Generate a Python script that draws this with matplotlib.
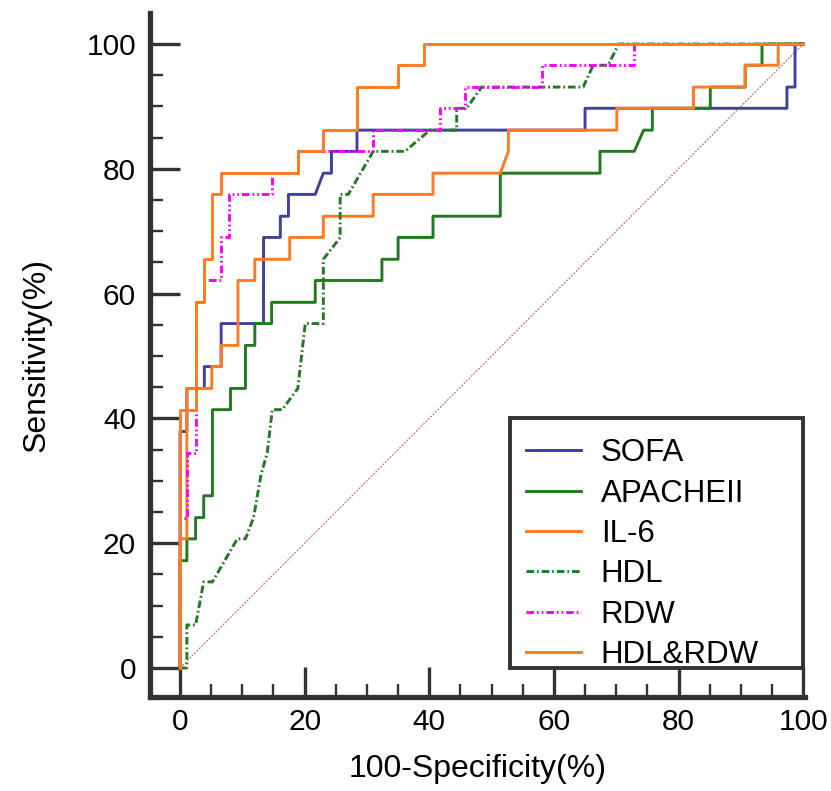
import matplotlib.pyplot as plt
from matplotlib.patches import Rectangle
from matplotlib.ticker import MultipleLocator

plt.rcParams['font.family'] = ['Liberation Sans', 'DejaVu Sans']

# ROC curve vertices: 100-specificity (%), sensitivity (%)
sofa_x = [0, 0, 1.1, 1.1, 3.9, 3.9, 6.6, 6.6, 13.4, 13.4, 16.1, 16.1, 17.4, 17.4, 21.7, 23.0, 24.3, 24.3,
          28.4, 28.4, 65.0, 65.0, 97.4, 97.4, 98.7, 98.7, 100]
sofa_y = [0, 37.9, 37.9, 44.8, 44.8, 48.3, 48.3, 55.2, 55.2, 69.0, 69.0, 72.4, 72.4, 75.9, 75.9, 79.3, 79.3, 82.8,
          82.8, 86.2, 86.2, 89.7, 89.7, 93.1, 93.1, 100, 100]

apache_x = [0, 0, 1.1, 1.1, 2.5, 2.5, 3.8, 3.8, 5.2, 5.2, 8.1, 8.1, 10.5, 10.5, 12.0, 12.0, 14.7, 14.7,
            21.7, 21.7, 32.4, 32.4, 35.0, 35.0, 40.6, 40.6, 51.4, 51.4, 67.4, 67.4, 72.9, 74.4, 75.8, 75.8,
            85.1, 85.1, 90.7, 90.7, 93.4, 93.4, 100]
apache_y = [0, 17.2, 17.2, 20.7, 20.7, 24.1, 24.1, 27.6, 27.6, 41.4, 41.4, 44.8, 44.8, 51.7, 51.7, 55.2, 55.2, 58.6,
            58.6, 62.1, 62.1, 65.5, 65.5, 69.0, 69.0, 72.4, 72.4, 79.3, 79.3, 82.8, 82.8, 86.2, 86.2, 89.7,
            89.7, 93.1, 93.1, 96.6, 96.6, 100, 100]

il6_x = [0, 0, 1.1, 1.1, 5.1, 5.1, 6.6, 6.6, 9.3, 9.3, 12.0, 12.0, 17.6, 17.6, 23.0, 23.0, 31.0, 31.0,
         40.6, 40.6, 51.4, 52.7, 52.7, 70.1, 70.1, 82.4, 82.4, 90.7, 90.7, 96.0, 96.0, 100]
il6_y = [0, 20.7, 20.7, 44.8, 44.8, 48.3, 48.3, 51.7, 51.7, 62.1, 62.1, 65.5, 65.5, 69.0, 69.0, 72.4, 72.4, 75.9,
         75.9, 79.3, 79.3, 82.8, 86.2, 86.2, 89.7, 89.7, 93.1, 93.1, 96.6, 96.6, 100, 100]

hdl_x = [0, 1.1, 1.1, 2.5, 3.8, 5.2, 9.2, 10.5, 11.8, 13.0, 14.0, 14.8, 16.4, 18.9, 20.1, 23.0, 23.0,
         25.7, 25.7, 27.0, 31.0, 36.1, 40.1, 44.4, 44.4, 46.0, 48.4, 64.7, 66.3, 68.7, 70.4, 100]
hdl_y = [0, 0, 6.9, 6.9, 13.8, 13.8, 20.7, 20.7, 24.1, 31.0, 34.5, 41.4, 41.4, 44.8, 55.2, 55.2, 65.5,
         69.0, 75.9, 75.9, 82.8, 82.8, 86.2, 86.2, 89.7, 89.7, 93.1, 93.1, 96.6, 96.6, 100, 100]

rdw_x = [0, 0, 1.1, 1.1, 2.5, 2.5, 3.9, 3.9, 6.6, 6.6, 7.9, 7.9, 14.8, 14.8, 18.9, 18.9, 31.0, 31.0,
         41.7, 41.7, 45.7, 45.7, 58.1, 58.1, 72.9, 72.9, 100]
rdw_y = [0, 24.1, 24.1, 34.5, 34.5, 58.6, 58.6, 62.1, 62.1, 69.0, 69.0, 75.9, 75.9, 79.3, 79.3, 82.8, 82.8, 86.2,
         86.2, 89.7, 89.7, 93.1, 93.1, 96.6, 96.6, 100, 100]

combo_x = [0, 0, 2.5, 2.5, 3.9, 3.9, 5.2, 5.2, 6.6, 6.6, 18.9, 18.9, 23.0, 23.0, 28.4, 28.4, 35.0, 35.0,
           39.1, 39.1, 100]
combo_y = [0, 41.4, 41.4, 58.6, 58.6, 65.5, 65.5, 75.9, 75.9, 79.3, 79.3, 82.8, 82.8, 86.2, 86.2, 93.1, 93.1, 96.6,
           96.6, 100, 100]

labels = ['SOFA', 'APACHEII', 'IL-6', 'HDL', 'RDW', 'HDL&RDW']
colors = ['#40409f', '#217a21', '#ff7a22', '#217a21', '#ff00ff', '#ff7a22']
styles = ['-', '-', '-', (0, (2.6, 1.0, 0.6, 1.0)), (0, (2.6, 1.0, 0.6, 1.0, 0.6, 1.0)), '-']
curves = [(sofa_x, sofa_y), (apache_x, apache_y), (il6_x, il6_y),
          (hdl_x, hdl_y), (rdw_x, rdw_y), (combo_x, combo_y)]

fig = plt.figure(figsize=(8.31, 7.91), dpi=100)
ax = fig.add_axes([150 / 831, 94 / 791, 655 / 831, 684 / 791])

# reference diagonal
ax.plot([0, 100], [0, 100], color='#c07070', lw=0.9, ls=(0, (1.5, 1.2)))

for (x, y), lab, c, ls in zip(curves, labels, colors, styles):
    ax.plot(x, y, color=c, lw=2.1, ls=ls, label=lab)

ax.set_xlim(-4.82, 100.3)
ax.set_ylim(-4.65, 104.97)

for s in ['top', 'right']:
    ax.spines[s].set_visible(False)
for s in ['left', 'bottom']:
    ax.spines[s].set_linewidth(3.8)
    ax.spines[s].set_color('#333333')

ax.xaxis.set_major_locator(MultipleLocator(20))
ax.xaxis.set_minor_locator(MultipleLocator(5))
ax.yaxis.set_major_locator(MultipleLocator(20))
ax.yaxis.set_minor_locator(MultipleLocator(5))
ax.tick_params(which='major', direction='in', length=21.5, width=2.4, color='#333333', labelsize=21.5)
ax.tick_params(which='minor', direction='in', length=9.5, width=1.7, color='#333333')
ax.tick_params(axis='x', which='major', pad=8)
ax.tick_params(axis='y', which='major', pad=10)

ax.set_xlabel('100-Specificity(%)', fontsize=23, labelpad=13)
ax.set_ylabel('Sensitivity(%)', fontsize=23, labelpad=25)

leg = ax.legend(loc='upper left', bbox_to_anchor=(55.5, 36.8), bbox_transform=ax.transData,
                frameon=False, fontsize=22.5, borderpad=0, borderaxespad=0,
                handlelength=1.75, handletextpad=0.65, labelspacing=0.33)
ax.add_patch(Rectangle((53.0, 0), 47.0, 40.1, fill=False, lw=2.8, edgecolor='#333333', zorder=5))

fig.savefig('out.png', dpi=100)
